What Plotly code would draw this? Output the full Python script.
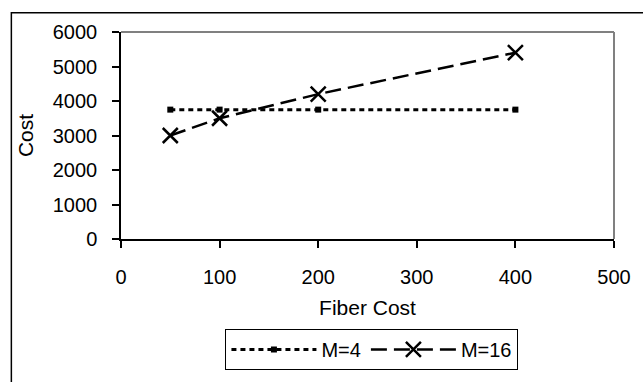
import plotly.graph_objects as go

fiber_cost = [50, 100, 200, 400]
cost_m4 = [3750, 3750, 3750, 3750]
cost_m16 = [3000, 3500, 4200, 5400]
x_ticks = [0, 100, 200, 300, 400, 500]
y_ticks = [0, 1000, 2000, 3000, 4000, 5000, 6000]

FONT = "Liberation Sans, Arial, sans-serif"

fig = go.Figure()
fig.add_trace(go.Scatter(
    x=fiber_cost, y=cost_m4, name="M=4", mode="lines+markers",
    line=dict(color="black", width=3, dash="5px,4px"),
    marker=dict(symbol="square", size=6, color="black"),
))
fig.add_trace(go.Scatter(
    x=fiber_cost, y=cost_m16, name="M=16", mode="lines+markers",
    line=dict(color="black", width=2.5, dash="16px,7px"),
    marker=dict(symbol="x-thin", size=15, color="black",
                line=dict(color="black", width=2.5)),
))

fig.update_layout(
    width=643, height=382,
    margin=dict(l=121, r=23, t=32, b=136),
    paper_bgcolor="white", plot_bgcolor="white",
    font=dict(family=FONT, size=20, color="black"),
    showlegend=True,
    legend=dict(
        orientation="h", x=0.509, xanchor="center", y=-0.4346, yanchor="top",
        bordercolor="black", borderwidth=1, bgcolor="white",
        itemwidth=85, font=dict(family=FONT, size=20, color="black"),
        tracegroupgap=0,
    ),
    xaxis=dict(
        range=[0, 500], tickvals=x_ticks, showgrid=False, zeroline=False,
        showline=True, linecolor="black", linewidth=1.5,
        ticks="outside", ticklen=7, tickcolor="black", tickwidth=1.5,
        tickfont=dict(family=FONT, size=20, color="black"),
        ticklabelstandoff=12,
        title=dict(text="Fiber Cost", standoff=14,
                   font=dict(family=FONT, size=21, color="black")),
    ),
    yaxis=dict(
        range=[0, 6000], tickvals=y_ticks, showgrid=False, zeroline=False,
        showline=True, linecolor="black", linewidth=1.5,
        ticks="outside", ticklen=7, tickcolor="black", tickwidth=1.5,
        tickfont=dict(family=FONT, size=20, color="black"),
        ticklabelstandoff=11,
        title=dict(text="Cost", standoff=13,
                   font=dict(family=FONT, size=21, color="black")),
    ),
    shapes=[
        dict(type="line", xref="x domain", yref="y domain", x0=0, x1=1, y0=1, y1=1,
             line=dict(color="#808080", width=2)),
        dict(type="line", xref="x domain", yref="y domain", x0=1, x1=1, y0=0, y1=1,
             line=dict(color="#808080", width=2)),
        dict(type="rect", xref="paper", yref="paper", x0=-0.2224, x1=1.1, y0=-0.8, y1=1.093,
             line=dict(color="black", width=1.5), fillcolor="rgba(0,0,0,0)", layer="below"),
    ],
)

fig.write_html("out.html")
